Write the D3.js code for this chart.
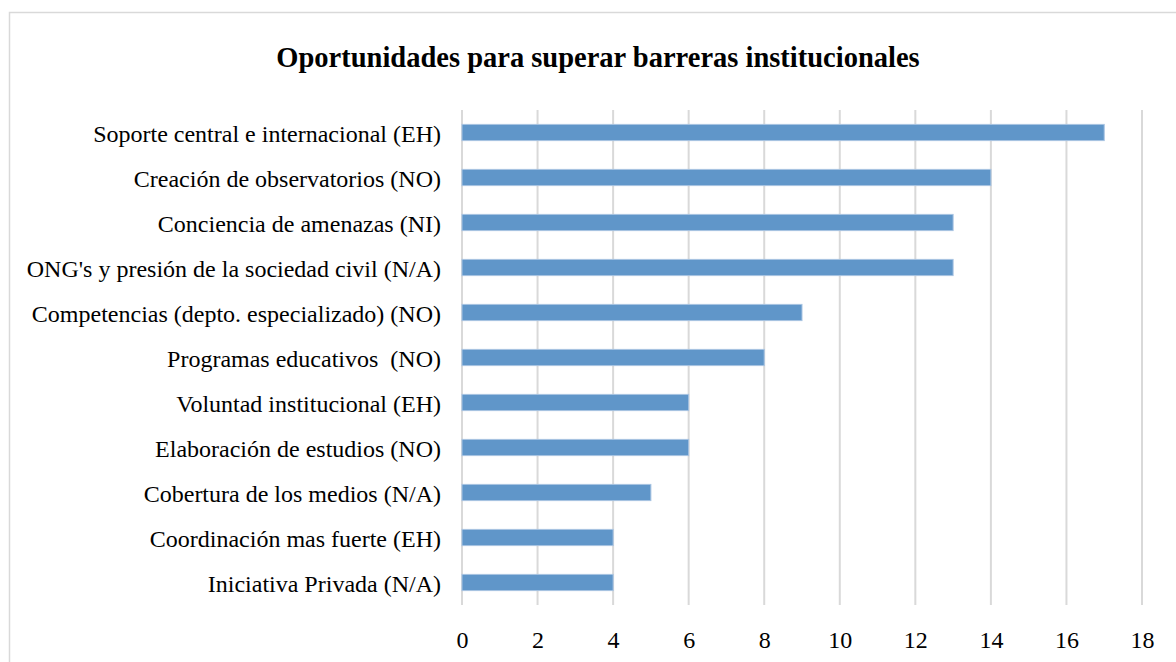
<!DOCTYPE html>
<html>
<head>
<meta charset="utf-8">
<script src="https://cdn.jsdelivr.net/npm/d3@7"></script>
<style>
  body { margin: 0; background: #fff; }
  text { font-family: "Liberation Serif", "Times New Roman", serif; fill: #000; white-space: pre; }
</style>
</head>
<body>
<svg id="chart" width="1176" height="662"></svg>
<script>
'use strict';

// data
const categories = [
  'Soporte central e internacional (EH)',
  'Creación de observatorios (NO)',
  'Conciencia de amenazas (NI)',
  "ONG's y presión de la sociedad civil (N/A)",
  'Competencias (depto. especializado) (NO)',
  'Programas educativos  (NO)',
  'Voluntad institucional (EH)',
  'Elaboración de estudios (NO)',
  'Cobertura de los medios (N/A)',
  'Coordinación mas fuerte (EH)',
  'Iniciativa Privada (N/A)'
];
const values = [17, 14, 13, 13, 9, 8, 6, 6, 5, 4, 4];
const xTicks = [0, 2, 4, 6, 8, 10, 12, 14, 16, 18];
const title = 'Oportunidades para superar barreras institucionales';

const W = 1176, H = 662;
const margin = { top: 110, right: 34, bottom: 57, left: 462 };

const svg = d3.select('#chart');

// chart frame
svg.append('rect')
    .attr('x', 9.5).attr('y', 12.5)
    .attr('width', W + 20).attr('height', H + 20)
    .style('fill', 'none')
    .style('stroke', '#d9d9d9')
    .style('stroke-width', 1.5);

// title
svg.append('text')
    .attr('x', 598)
    .attr('y', 67)
    .style('text-anchor', 'middle')
    .style('font-weight', 'bold')
    .style('font-size', '28.5px')
    .text(title);

const g = svg.append('g')
    .attr('transform', `translate(${margin.left},${margin.top})`);

const width  = W - margin.left - margin.right,
      height = H - margin.top - margin.bottom;

const x = d3.scaleLinear()
    .domain([0, 18])
    .range([0, width]);

const y = d3.scaleBand()
    .domain(categories)
    .range([0, height])
    .paddingInner(0.64)
    .paddingOuter(0.32);

// gridlines
g.append('g')
    .attr('class', 'grid')
  .selectAll('line')
    .data(xTicks)
  .enter().append('line')
    .attr('x1', d => x(d)).attr('x2', d => x(d))
    .attr('y1', 0).attr('y2', height)
    .style('stroke', '#d9d9d9')
    .style('stroke-width', 2);

// bars
g.append('g')
    .attr('class', 'bars')
  .selectAll('rect')
    .data(values)
  .enter().append('rect')
    .attr('x', x(0))
    .attr('y', (d, i) => y(categories[i]))
    .attr('width', d => x(d) - x(0))
    .attr('height', y.bandwidth())
    .style('fill', '#6096c9')
    .style('stroke', '#a8c4e2')
    .style('stroke-width', 1);

// x-axis
const xAxis = g.append('g')
    .attr('transform', `translate(0,${height})`)
    .call(d3.axisBottom(x).tickValues(xTicks).tickSize(0).tickPadding(26));
xAxis.select('.domain').remove();
xAxis.selectAll('text')
    .style('font-size', '24px');

// y-axis
const yAxis = g.append('g')
    .call(d3.axisLeft(y).tickSize(0).tickPadding(21));
yAxis.select('.domain').remove();
yAxis.selectAll('text')
    .attr('dy', '0.38em')
    .style('font-size', '24px');
</script>
</body>
</html>
